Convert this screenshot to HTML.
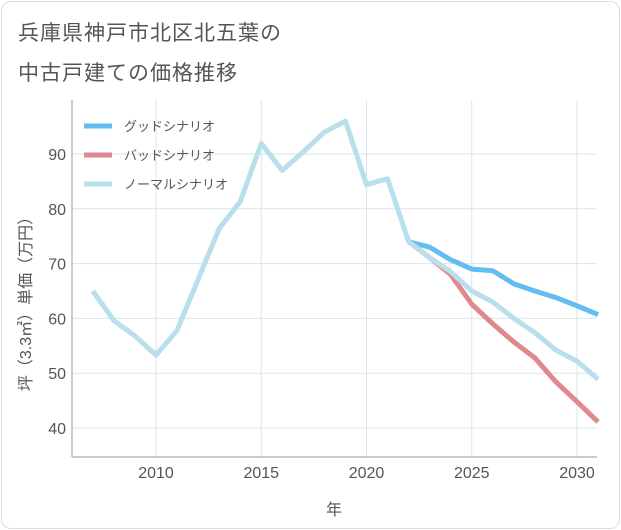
<!DOCTYPE html>
<html><head><meta charset="utf-8"><style>
body{margin:0;background:#fff;}
#wrap{position:relative;width:621px;height:530px;font-family:"Liberation Sans","Noto Sans CJK JP",sans-serif;}
#frame{position:absolute;left:1px;top:1px;width:617px;height:526px;border:1px solid #ddd;border-radius:10px;}
.title{position:absolute;left:18px;font-size:21px;color:#555;letter-spacing:1px;}
</style></head><body>
<div id="wrap">
<div id="frame"></div>
<div class="title" style="top:17px">兵庫県神戸市北区北五葉の</div>
<div class="title" style="top:57px">中古戸建ての価格推移</div>
<svg id="chart" width="621" height="530" style="position:absolute;left:0;top:0"></svg>
</div>
<script>
const years=[2007,2008,2009,2010,2011,2012,2013,2014,2015,2016,2017,2018,2019,2020,2021,2022,2023,2024,2025,2026,2027,2028,2029,2030,2031];
const normalVals=[65.0,59.6,56.8,53.3,57.8,67.1,76.4,81.3,91.9,87.0,90.4,94.0,96.0,84.4,85.5,74.0,71.1,68.5,65.0,63.0,60.0,57.4,54.2,52.2,48.9];
const futureYears=[2022,2023,2024,2025,2026,2027,2028,2029,2030,2031];
const goodVals=[74.0,73.0,70.7,69.0,68.7,66.3,65.0,63.8,62.3,60.7];
const badVals=[74.0,71.1,68.0,62.6,59.0,55.7,52.8,48.4,44.8,41.1];
const xTicks=[2010,2015,2020,2025,2030];
const yTicks=[40,50,60,70,80,90];
const legendLabels=["グッドシナリオ","バッドシナリオ","ノーマルシナリオ"];
const colors=["#64bdf0","#e08890","#b8dfea"];
const L=72,R=597,T=100,B=457;
const X=v=>156+(v-2010)*21.05;
const Y=v=>154+(90-v)*5.48;
const svg=document.getElementById('chart');
const NS="http://www.w3.org/2000/svg";
function mk(t,a){const e=document.createElementNS(NS,t);for(const k in a)e.setAttribute(k,a[k]);svg.appendChild(e);return e;}
for(const t of xTicks){const l=mk('line',{x1:X(t),x2:X(t),y1:T,y2:B,stroke:'#dbe3ea','stroke-width':1});


const tx=mk('text',{x:X(t),y:478,'text-anchor':'middle','font-size':16,fill:'#555'});tx.textContent=t;

}
for(const t of yTicks){const l=mk('line',{x1:L,x2:R,y1:Y(t),y2:Y(t),stroke:'#dbe3ea','stroke-width':1});


const tx=mk('text',{x:66,y:Y(t)+6,'text-anchor':'end','font-size':16,fill:'#555'});tx.textContent=t;

}
const ax=mk('line',{x1:L,x2:L,y1:T,y2:B,stroke:'#999'});


const bx=mk('line',{x1:L,x2:R,y1:B,y2:B,stroke:'#999'});


function series(xs,vs,c,name){const p=mk('polyline',{points:xs.map((x,i)=>X(x)+','+Y(vs[i])).join(' '),fill:'none',stroke:c,'stroke-width':5,'stroke-linejoin':'round'});

}
series(futureYears,goodVals,colors[0],'good-scenario-line');
series(futureYears,badVals,colors[1],'bad-scenario-line');
series(years,normalVals,colors[2],'normal-scenario-line');
legendLabels.forEach((s,i)=>{const y=126+i*29;
const l=mk('line',{x1:84,x2:112,y1:y,y2:y,stroke:colors[i],'stroke-width':5});


const t=mk('text',{x:124,y:y+5,'font-size':13,fill:'#555'});t.textContent=s;

});
const xt=mk('text',{x:334,y:515,'text-anchor':'middle','font-size':16,fill:'#555'});xt.textContent='年';


const yt=mk('text',{x:0,y:0,'text-anchor':'middle','font-size':16,fill:'#555',transform:'translate(31,300) rotate(-90)'});yt.textContent='坪（3.3㎡）単価（万円）';


</script>
</body></html>
